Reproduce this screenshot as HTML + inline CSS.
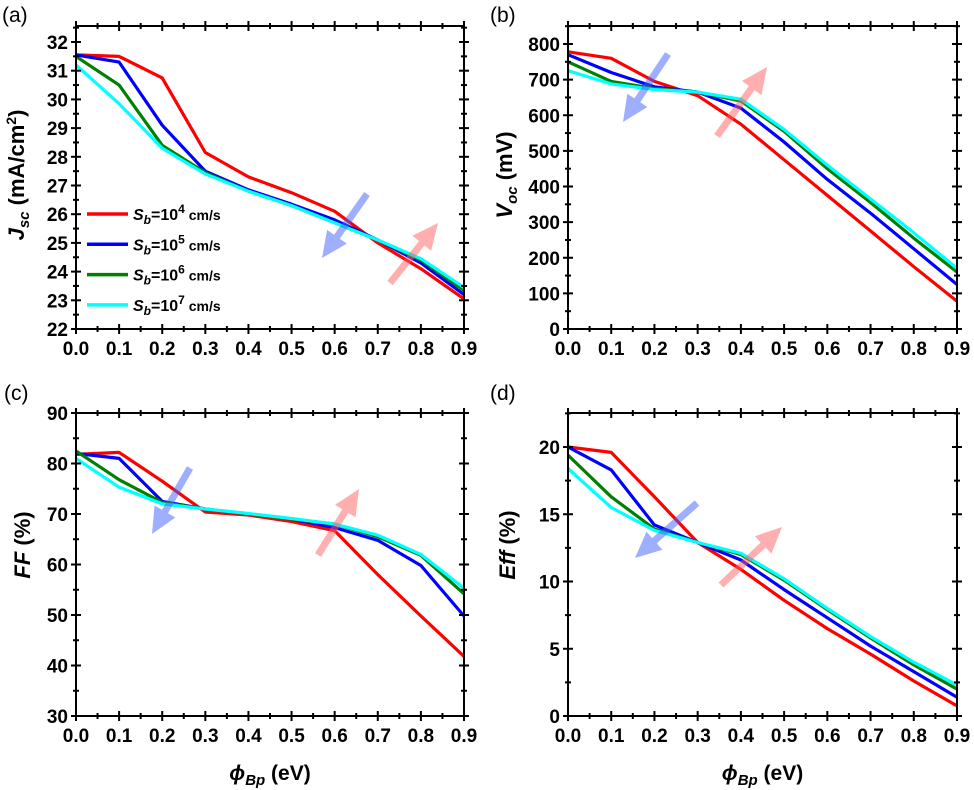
<!DOCTYPE html>
<html><head><meta charset="utf-8"><style>
body{margin:0;background:#fff}
svg{display:block;font-family:"Liberation Sans",Arial,sans-serif}
</style></head><body>
<svg id="fig" width="974" height="790" viewBox="0 0 974 790"></svg>
<script>
const xVals=[0,0.1,0.2,0.3,0.4,0.5,0.6,0.7,0.8,0.9];
const xTicks=["0.0","0.1","0.2","0.3","0.4","0.5","0.6","0.7","0.8","0.9"];
const seriesNames=["sb-1e4","sb-1e5","sb-1e6","sb-1e7"];
const seriesColors=["#ff0000","#0000ff","#008000","#00ffff"];
const jscRed=[31.55,31.5,30.75,28.15,27.3,26.75,26.1,25.0,24.1,23.05];
const jscBlue=[31.55,31.3,29.1,27.5,26.85,26.35,25.8,25.1,24.3,23.2];
const jscGreen=[31.5,30.5,28.4,27.45,26.8,26.3,25.7,25.1,24.4,23.35];
const jscCyan=[31.2,29.85,28.3,27.4,26.8,26.3,25.7,25.1,24.45,23.45];
const vocRed=[778,760,695,655,575,475,375,275,175,78];
const vocBlue=[770,720,680,665,620,525,420,325,225,125];
const vocGreen=[750,695,675,665,640,555,450,355,255,160];
const vocCyan=[725,688,672,665,645,560,460,365,270,170];
const ffRed=[81.8,82.2,76.5,70.4,69.8,68.5,66.7,58,49.8,41.8];
const ffBlue=[82,81,72.5,71,70,69,67.3,64.8,59.8,49.8];
const ffGreen=[82.5,76.8,72.3,71,70,69,68,65.5,61.8,54.2];
const ffCyan=[81,75.3,72,71,70.1,69.1,68,65.8,62,55.3];
const effRed=[20,19.6,16.3,12.9,10.9,8.6,6.5,4.6,2.6,0.75];
const effBlue=[20,18.3,14.2,12.9,11.6,9.4,7.3,5.2,3.3,1.4];
const effGreen=[19.4,16.3,13.9,12.9,12.0,10.1,7.9,5.8,3.8,2.0];
const effCyan=[18.4,15.5,13.8,12.9,12.1,10.2,8.0,5.9,4.0,2.3];
const jscTicks=[22,23,24,25,26,27,28,29,30,31,32];
const vocTicks=[0,100,200,300,400,500,600,700,800];
const ffTicks=[30,40,50,60,70,80,90];
const effTicks=[0,5,10,15,20];

const NS="http://www.w3.org/2000/svg";
const svg=document.getElementById('fig');
function mk(tag,attrs,parent){const e=document.createElementNS(NS,tag);for(const k in attrs)e.setAttribute(k,attrs[k]);(parent||svg).appendChild(e);return e;}

const panels=[
 {id:'a',L:76,R:464,T:26,B:329,ref0:22,ref0px:329,ref1:32,ref1px:42,ticks:jscTicks,minor:0.5,data:[jscRed,jscBlue,jscGreen,jscCyan],label:'(a)',lx:2,ly:22,
  ylab:'jsc',ylx:24,yly:175,arrows:[[367,194,322,258,'#4060ff'],[390,283,438,223,'#ff6060']]},
 {id:'b',L:568,R:957,T:26,B:329,ref0:0,ref0px:329,ref1:800,ref1px:44,ticks:vocTicks,minor:50,data:[vocRed,vocBlue,vocGreen,vocCyan],label:'(b)',lx:490,ly:22,
  ylab:'voc',ylx:512,yly:175,arrows:[[668,54,623,122,'#4060ff'],[717,136,767,67,'#ff6060']]},
 {id:'c',L:76,R:464,T:413,B:716,ref0:30,ref0px:716,ref1:90,ref1px:413,ticks:ffTicks,minor:5,data:[ffRed,ffBlue,ffGreen,ffCyan],label:'(c)',lx:4,ly:400,
  ylab:'ff',ylx:30,yly:545,arrows:[[190,468,152,534,'#4060ff'],[318,555,359,489,'#ff6060']],xlab:true},
 {id:'d',L:568,R:957,T:413,B:716,ref0:0,ref0px:716,ref1:20,ref1px:447,ticks:effTicks,minor:2.5,data:[effRed,effBlue,effGreen,effCyan],label:'(d)',lx:490,ly:400,
  ylab:'eff',ylx:515,yly:545,arrows:[[697,503,635,558,'#4060ff'],[721,585,782,527,'#ff6060']],xlab:true}
];

function arrow(g,x1,y1,x2,y2,col){
  const dx=x2-x1,dy=y2-y1,len=Math.hypot(dx,dy),ux=dx/len,uy=dy/len,px=-uy,py=ux;
  const hl=26,hw=12,sw=3.5;
  const bx=x2-ux*hl,by=y2-uy*hl;
  const pts=[[x1+px*sw,y1+py*sw],[bx+px*sw,by+py*sw],[bx+px*hw,by+py*hw],[x2,y2],[bx-px*hw,by-py*hw],[bx-px*sw,by-py*sw],[x1-px*sw,y1-py*sw]];
  const a=mk('polygon',{points:pts.map(p=>p.join(',')).join(' '),fill:col,'fill-opacity':0.5},g);
  
  
}

panels.forEach(p=>{
  const g=mk('g',{});
  
  
  const sx=v=>p.L+(v-0)/(0.9)*(p.R-p.L);
  const k=(p.ref1px-p.ref0px)/(p.ref1-p.ref0);
  const sy=v=>p.ref0px+(v-p.ref0)*k;
  const lab=mk('text',{x:p.lx,y:p.ly,'font-size':21,fill:'#000'},g);lab.textContent=p.label;
  
  p.data.forEach((d,i)=>{
    const pl=mk('polyline',{points:d.map((v,j)=>sx(xVals[j]).toFixed(1)+','+sy(v).toFixed(1)).join(' '),fill:'none',stroke:seriesColors[i],'stroke-width':3.2,'stroke-linejoin':'round'},g);
    
    
  });
  p.arrows.forEach(a=>arrow(g,a[0],a[1],a[2],a[3],a[4]));
  const fr=mk('rect',{x:p.L,y:p.T,width:p.R-p.L,height:p.B-p.T,fill:'none',stroke:'#000','stroke-width':2},g);
  
  for(let i=0;i<=18;i++){
    const v=i*0.05,x=sx(v),maj=i%2===0,l=maj?5:3;
    mk('line',{x1:x,x2:x,y1:p.B-l,y2:p.B+l,stroke:'#000','stroke-width':2},g);
    mk('line',{x1:x,x2:x,y1:p.T-l,y2:p.T+l,stroke:'#000','stroke-width':2},g);
  }
  xTicks.forEach((t,i)=>{
    const e=mk('text',{x:sx(xVals[i]),y:p.B+26,'font-size':19,'font-weight':'bold','text-anchor':'middle'},g);e.textContent=t;
    
  });
  const step=p.ticks[1]-p.ticks[0];
  for(let v=p.ticks[0];v<=p.ticks[p.ticks.length-1]+step;v+=p.minor){
    const y=sy(v);if(y<p.T-0.5)break;
    const maj=Math.abs((v-p.ticks[0])/step-Math.round((v-p.ticks[0])/step))<1e-6,l=maj?5:3;
    mk('line',{x1:p.L-l,x2:p.L+l,y1:y,y2:y,stroke:'#000','stroke-width':2},g);
    mk('line',{x1:p.R-l,x2:p.R+l,y1:y,y2:y,stroke:'#000','stroke-width':2},g);
  }
  p.ticks.forEach(v=>{
    const e=mk('text',{x:p.L-8,y:sy(v)+7,'font-size':19,'font-weight':'bold','text-anchor':'end'},g);e.textContent=v;
    
  });
  const yl=mk('text',{transform:`translate(${p.ylx},${p.yly}) rotate(-90)`,'font-size':22,'font-weight':'bold','text-anchor':'middle'},g);
  
  if(p.ylab==='jsc') yl.innerHTML='<tspan font-style="italic">J</tspan><tspan font-style="italic" font-size="15" dy="5">sc</tspan><tspan dy="-5"> (mA/cm</tspan><tspan font-size="14" dy="-8">2</tspan><tspan dy="8">)</tspan>';
  if(p.ylab==='voc') yl.innerHTML='<tspan font-style="italic">V</tspan><tspan font-style="italic" font-size="15" dy="5">oc</tspan><tspan dy="-5"> (mV)</tspan>';
  if(p.ylab==='ff') yl.innerHTML='<tspan font-style="italic">FF</tspan> (%)';
  if(p.ylab==='eff') yl.innerHTML='<tspan font-style="italic">Eff</tspan> (%)';
  if(p.xlab){
    const xl=mk('text',{x:(p.L+p.R)/2,y:780,'font-size':21,'font-weight':'bold','text-anchor':'middle'},g);
    xl.innerHTML='<tspan font-style="italic">ϕ</tspan><tspan font-style="italic" font-size="15" dy="5">Bp</tspan><tspan dy="-5"> (eV)</tspan>';
    
  }
});
const leg=mk('g',{});


const legExp=['4','5','6','7'];
legExp.forEach((e,i)=>{
  const y=214+i*30.3;
  const ent=mk('g',{},leg);
  
  
  mk('line',{x1:87,x2:128,y1:y,y2:y,stroke:seriesColors[i],'stroke-width':3.5},ent);
  const t=mk('text',{x:133,y:y+6,'font-size':16,'font-weight':'bold'},ent);
  t.innerHTML='<tspan font-style="italic">S</tspan><tspan font-style="italic" font-size="12" dy="4">b</tspan><tspan dy="-4">=10</tspan><tspan font-size="12" dy="-7">'+e+'</tspan><tspan dy="7" font-size="14"> cm/s</tspan>';
});
</script>
</body></html>
